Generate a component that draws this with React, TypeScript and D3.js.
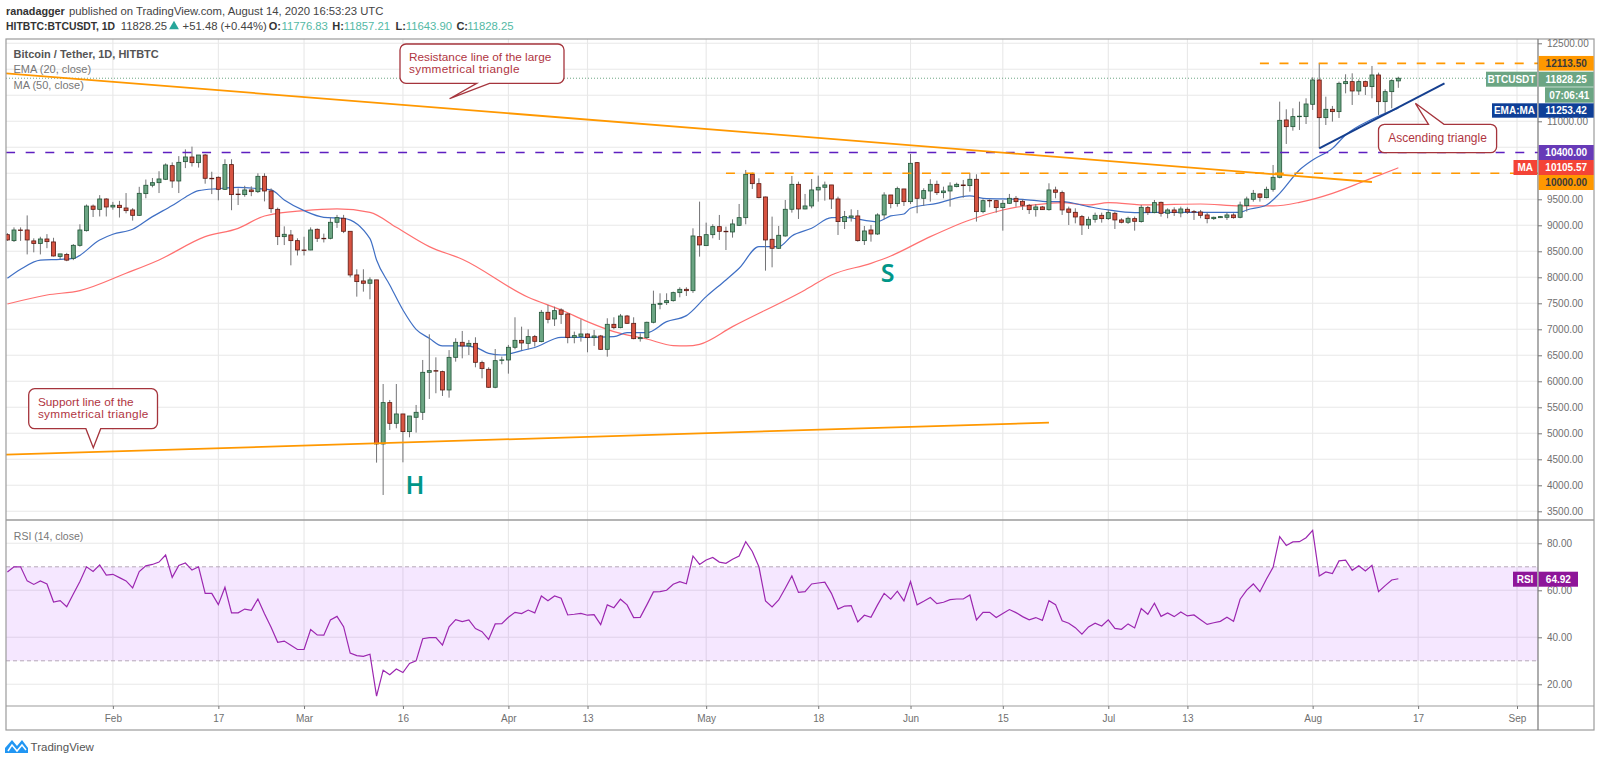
import { useEffect, useRef } from "react";
import * as d3 from "d3";

const opens = [8820,8705,8910,8910,8700,8650,8737,8680,8400,8440,8365,8615,8897,9370,9307,9506,9352,9385,9333,9295,9192,9609,9770,9820,9885,10147,9852,10224,10314,10205,10352,9904,9923,9692,10167,9600,9590,9680,9647,9942,9660,9307,8782,8814,8705,8525,8525,8923,8750,8750,9058,9135,8885,8045,7930,7885,7950,4795,5590,5192,5372,5032,5308,5404,6173,6205,6186,5833,6461,6750,6680,6730,6359,6231,5885,6410,6410,6654,6788,6730,6859,6763,7327,7199,7372,7295,6846,6865,6910,6840,6872,6615,7096,7032,7256,7115,6820,6840,7135,7481,7513,7551,7705,7769,7743,8782,8609,8820,8974,8885,8872,9000,9147,9981,9801,9545,8731,8558,8795,9308,9788,9314,9372,9680,9731,9776,9506,9071,9154,9180,8705,8910,8833,9199,9583,9417,9699,9455,10205,9519,9660,9788,9628,9660,9744,9776,9763,9885,9263,9480,9474,9340,9423,9519,9462,9385,9301,9353,9301,9680,9628,9314,9250,9167,9006,9115,9192,9128,9231,9103,9058,9128,9071,9340,9244,9442,9231,9295,9237,9308,9263,9256,9199,9128,9147,9154,9199,9154,9378,9500,9603,9532,9692,9923,11026,10897,11096,11090,11327,11795,11070,11231,11186,11724,11763,11583,11763,11667,11891,11378,11570,11776.83];
const highs = [8850,8960,8960,9190,8750,8780,8830,8760,8450,8470,8640,9020,9400,9400,9580,9520,9450,9470,9620,9330,9740,9880,9910,10040,10190,10210,10330,10460,10513,10350,10370,10030,9940,10270,10270,9710,9760,9750,10000,10000,9710,9340,8980,8910,8750,8780,8960,8940,8840,9150,9200,9200,8885,8154,8154,8000,7950,5948,5641,5948,5372,5333,5545,6410,6904,6461,6205,6600,6827,6968,6795,6846,6397,6269,6621,6474,6700,7231,7051,7000,6891,7372,7468,7436,7404,7308,6955,7192,6923,6987,6891,7212,7231,7295,7276,7231,6923,7147,7743,7692,7692,7724,7808,7808,8942,9455,9051,9019,9199,8974,9115,9410,10064,10013,9904,9551,9167,8987,9487,9949,9840,9603,9891,9955,9840,9776,9551,9276,9308,9295,8987,9006,9231,9635,9583,9743,9699,10372,10218,9712,9885,9859,9743,9827,9820,9872,10000,9981,9500,9500,9487,9487,9603,9564,9500,9410,9410,9372,9808,9743,9667,9359,9327,9199,9167,9244,9244,9295,9263,9135,9167,9167,9391,9372,9487,9455,9327,9346,9359,9346,9295,9295,9244,9167,9180,9244,9231,9455,9551,9680,9615,9743,10160,11378,11231,11250,11378,11442,11846,12115,11474,11295,11763,11904,11923,11808,11782,12064,11936,11615,11808,11857.21];
const lows = [8700,8680,8700,8440,8480,8440,8560,8400,8350,8310,8330,8590,8880,9160,9170,9170,9300,9150,9230,9090,9180,9520,9730,9620,9870,9720,9620,10100,10130,10110,9800,9600,9480,9680,9290,9390,9550,9560,9620,9460,9240,8620,8620,8230,8420,8420,8520,8680,8670,8730,8950,8850,8000,7628,7724,7577,4436,3814,5064,5096,4442,4923,5013,5256,5660,5770,5718,5686,6378,6442,6506,6269,6057,5872,5866,6327,6147,6615,6603,6615,6667,6750,7115,7064,7103,6731,6731,6763,6558,6680,6603,6474,7000,7019,7103,6808,6763,6814,7115,7385,7468,7532,7615,7641,7700,8397,8603,8750,8718,8525,8763,8987,9019,9699,9519,8128,8192,8545,8782,9244,9122,9308,9327,9455,9474,9314,8814,8929,9071,8686,8622,8686,8814,9115,9327,9359,9372,9410,9231,9372,9455,9583,9519,9359,9731,9532,9647,9071,9231,9346,9244,8897,9410,9359,9295,9218,9167,9295,9282,9519,9199,9006,9038,8814,8929,9051,9051,9103,8929,9038,9026,8897,9051,9199,9231,9167,9135,9180,9154,9218,9103,9135,9038,9103,9140,9103,9128,9135,9263,9455,9455,9519,9647,9904,10564,10820,10833,10948,11218,10480,10929,10994,11064,11538,11314,11506,11506,11442,11122,11154,11250,11643.9];
const closes = [8718,8910,8905,8718,8650,8737,8686,8410,8450,8330,8615,8910,9370,9307,9506,9352,9385,9340,9282,9192,9615,9770,9820,9891,10160,9852,10211,10314,10205,10352,9904,9900,9692,10167,9590,9596,9680,9647,9942,9660,9320,8782,8827,8705,8525,8522,8910,8750,8745,9058,9147,8885,8045,7917,7885,7950,4795,5590,5192,5372,5032,5333,5404,6173,6205,6200,5833,6461,6750,6680,6730,6365,6244,5885,6397,6412,6654,6788,6737,6859,6769,7327,7192,7359,7288,6840,6878,6910,6840,6872,6615,7096,7032,7256,7115,6820,6840,7135,7481,7500,7551,7705,7769,7743,8795,8622,8820,8974,8885,8882,9026,9147,9981,9801,9532,8718,8558,8808,9308,9788,9314,9372,9680,9731,9776,9506,9071,9167,9180,8705,8891,8833,9199,9583,9417,9705,9455,10192,9519,9667,9788,9628,9660,9756,9788,9763,9885,9263,9474,9478,9340,9423,9519,9455,9385,9301,9353,9301,9680,9635,9295,9250,9160,9006,9115,9192,9128,9244,9103,9058,9135,9077,9346,9250,9436,9231,9295,9244,9314,9256,9261,9192,9128,9154,9167,9199,9147,9391,9506,9615,9538,9692,9923,11019,10897,11090,11098,11333,11795,11070,11231,11186,11730,11763,11583,11763,11673,11891,11378,11570,11782,11828.25];

const emaDays = [0,2,5,8,10,14,16,19,22,25,27,29,32,35,38,40,42,45,48,51,55,56,58,60,62,64,66,69,71,73,75,78,80,84,88,92,94,97,100,103,106,109,111,114,117,119,122,125,127,132,134,136,137,141,146,148,154,158,160,164,167,171,178,187,188,191,193,196,198,201,203,207,211];
const emaValues = [7981,8154,8330,8346,8365,8718,8827,8923,9167,9380,9540,9667,9705,9731,9705,9680,9487,9282,9154,9135,8744,8333,7853,7372,7000,6827,6680,6680,6654,6538,6506,6590,6650,6846,6846,6859,6936,6936,7147,7263,7628,7949,8173,8590,8590,8795,8942,9147,9150,9071,9180,9218,9327,9423,9564,9519,9500,9455,9455,9359,9295,9244,9250,9250,9295,9391,9615,10064,10256,10480,10737,11038,11253];
const maDays = [0,6,11,18,23,30,35,39,45,50,55,59,64,69,79,84,88,92,97,101,103,105,110,121,125,131,134,140,146,151,158,160,164,167,173,181,187,192,196,201,206,211];
const maValues = [7487,7660,7744,8077,8333,8782,8942,9179,9282,9314,9250,8961,8590,8346,7615,7372,7147,6955,6814,6686,6680,6711,7051,7756,8045,8269,8410,8782,9103,9295,9423,9436,9391,9436,9391,9410,9372,9372,9442,9615,9859,10105.57];
const rsiValues = [67.8,70,70,64,62.5,64,62.7,55,55.6,53,58.4,63.7,70,68,70.8,66.5,66.8,65.4,64,61,68,70.4,71,72,75,65.5,70.6,71.6,68.6,70,58.7,58.7,53.9,61.3,50.4,50.4,52,51.5,56.3,50,44.3,37.9,38.4,36.6,34.8,34.8,43.3,41,40.9,47.4,48.9,44.5,33.3,32.2,31.9,32.8,15,26,24.1,26.5,25,28.9,30,39.4,39.9,39.9,36.7,44.5,47.5,46.7,47.4,43.7,42.4,39.1,45.7,45.8,48.5,50.6,50.1,51.6,50.4,57.6,55.6,57.6,56.6,49.5,49.8,50.2,49.4,49.6,45.4,53.8,52.6,56.2,53.8,48.4,48.5,53.8,59.3,59.4,60,62.6,63.7,62.8,74.6,71,72.9,74,72,71.5,73.2,74.6,80.7,76.5,70,55.5,52.9,55.9,60.9,66.1,59.1,59.4,62.7,63.1,63.5,58.7,52,53.3,53.5,46.5,49.4,48.5,53.8,58.7,56.2,59.6,55.5,63.7,53.8,55.3,56.9,54.3,54.9,56,56.3,56.3,58,47.4,50.6,50.6,48.4,50.1,51.8,50.5,48.8,47.4,48.4,47.2,55.6,53.9,47,46,44.1,41.3,44.4,46,44.8,47.4,43.8,43.4,45.7,44,52.2,49.8,54.5,48.9,50.4,48.8,50.8,49.1,49.5,47.5,45.5,46.2,46.8,48.5,46.8,56.2,60.1,62.7,59.4,64.8,69.8,82.8,79.1,80.6,80.7,82.4,85.5,66.1,67.8,67.1,72.5,72.8,68.5,70.4,68.2,70.6,59.4,62,64.4,64.92];

const priceTicks = [12500,12000,11500,11000,10500,10000,9500,9000,8500,8000,7500,7000,6500,6000,5500,5000,4500,4000,3500];
// these price labels sit under the tags on the right, the reference shows none of them
const hiddenPriceLabels = [12000,11500,10500,10000];
const rsiTicks = [80,60,40,20];
const timeTicks = ["2020-02-01","2020-02-17","2020-03-01","2020-03-16","2020-04-01","2020-04-13","2020-05-01","2020-05-18","2020-06-01","2020-06-15","2020-07-01","2020-07-13","2020-08-01","2020-08-17","2020-09-01"];
const timeLabels = ["Feb","17","Mar","16","Apr","13","May","18","Jun","15","Jul","13","Aug","17","Sep"];

const FONT = "'Liberation Sans', Arial, sans-serif";
const WIDTH = 1600;
const HEIGHT = 763;
const DAY = 86400000;

export default function App() {
  const ref = useRef<SVGSVGElement | null>(null);

  useEffect(() => {
    if (!ref.current) return;
    const svg = d3.select(ref.current);
    svg.selectAll("*").remove();

    const left = 6;
    const right = 1538;
    const outerRight = 1594;
    const top = 39;
    const paneBottom = 520;
    const rsiBottom = 706;
    const bottom = 730;

    const start = Date.UTC(2020, 0, 16);
    const x = d3
      .scaleUtc()
      .domain([new Date(start), new Date(Date.UTC(2020, 8, 1))])
      .range([7.4, 1517]);
    const xAt = (i: number) => x(new Date(start + i * DAY));
    const y = d3.scaleLinear().domain([4000, 12500]).range([485.3, 43.3]);
    const yRsi = d3.scaleLinear().domain([20, 80]).range([684.3, 543.3]);
    const tickDates = timeTicks.map((d) => new Date(d + "T00:00:00Z"));

    svg.append("rect").attr("width", WIDTH).attr("height", HEIGHT).attr("fill", "#fff");

    svg
      .append("defs")
      .append("clipPath")
      .attr("id", "plot")
      .append("rect")
      .attr("x", left)
      .attr("y", top)
      .attr("width", right - left)
      .attr("height", paneBottom - top);

    // grid
    const grid = svg.append("g").attr("stroke", "#e8e8e8").attr("stroke-width", 1.1);
    grid
      .selectAll("line.h")
      .data(priceTicks)
      .join("line")
      .attr("x1", left)
      .attr("x2", right)
      .attr("y1", (d) => y(d))
      .attr("y2", (d) => y(d));
    grid
      .selectAll("line.r")
      .data(rsiTicks)
      .join("line")
      .attr("x1", left)
      .attr("x2", right)
      .attr("y1", (d) => yRsi(d))
      .attr("y2", (d) => yRsi(d));
    grid
      .selectAll("line.v")
      .data(tickDates)
      .join("line")
      .attr("x1", (d) => x(d))
      .attr("x2", (d) => x(d))
      .attr("y1", top)
      .attr("y2", rsiBottom);

    // rsi band
    svg
      .append("rect")
      .attr("x", left)
      .attr("width", right - left)
      .attr("y", yRsi(70))
      .attr("height", yRsi(30) - yRsi(70))
      .attr("fill", "#9915ff")
      .attr("fill-opacity", 0.1);
    [70, 30].forEach((v) => {
      svg
        .append("line")
        .attr("x1", left)
        .attr("x2", right)
        .attr("y1", yRsi(v))
        .attr("y2", yRsi(v))
        .attr("stroke", "#b5a8b8")
        .attr("stroke-dasharray", "4 3");
    });

    const plot = svg.append("g").attr("clip-path", "url(#plot)");

    // last price line
    plot
      .append("line")
      .attr("x1", left)
      .attr("x2", right)
      .attr("y1", y(11828.25))
      .attr("y2", y(11828.25))
      .attr("stroke", "#6ba583")
      .attr("stroke-dasharray", "1 2");

    const maLine = d3
      .line<number>()
      .x((d, i) => xAt(maDays[i]))
      .y((d) => y(d))
      .curve(d3.curveMonotoneX);
    const emaLine = d3
      .line<number>()
      .x((d, i) => xAt(emaDays[i]))
      .y((d) => y(d))
      .curve(d3.curveMonotoneX);

    plot
      .append("path")
      .attr("d", maLine(maValues))
      .attr("fill", "none")
      .attr("stroke", "#ff7070")
      .attr("stroke-width", 1.2);
    plot
      .append("path")
      .attr("d", emaLine(emaValues))
      .attr("fill", "none")
      .attr("stroke", "#3f6fc4")
      .attr("stroke-width", 1.2);

    // candles
    const candles = plot
      .selectAll("g.candle")
      .data(closes)
      .join("g")
      .attr("class", "candle");
    candles
      .append("line")
      .attr("x1", (d, i) => xAt(i))
      .attr("x2", (d, i) => xAt(i))
      .attr("y1", (d, i) => y(highs[i]))
      .attr("y2", (d, i) => y(lows[i]))
      .attr("stroke", "#737375")
      .attr("stroke-width", 1);
    candles
      .append("rect")
      .attr("x", (d, i) => xAt(i) - 2)
      .attr("width", 4)
      .attr("y", (d, i) => y(Math.max(opens[i], d)))
      .attr("height", (d, i) => Math.max(0.5, Math.abs(y(opens[i]) - y(d))))
      .attr("fill", (d, i) => (d >= opens[i] ? "#6ba583" : "#d75442"))
      .attr("stroke", (d, i) => (d >= opens[i] ? "#225437" : "#5b1a13"))
      .attr("stroke-width", 0.8);

    // horizontal levels
    const level = (price: number, from: number, color: string) =>
      plot
        .append("line")
        .attr("x1", xAt(from))
        .attr("x2", right)
        .attr("y1", y(price))
        .attr("y2", y(price))
        .attr("stroke", color)
        .attr("stroke-width", 1.6)
        .attr("stroke-dasharray", "9 10.6");
    level(10400, -0.2, "#5e1fc0");
    level(10000, 109, "#ff9800");
    level(12113.5, 190, "#ff9800");

    // trend lines
    const trend = (a: number[], b: number[], color: string, w: number) =>
      plot
        .append("line")
        .attr("x1", xAt(a[0]))
        .attr("y1", y(a[1]))
        .attr("x2", xAt(b[0]))
        .attr("y2", y(b[1]))
        .attr("stroke", color)
        .attr("stroke-width", w);
    trend([-0.2, 11923], [207, 9833], "#ff9800", 1.8);
    trend([-0.2, 4588], [158, 5205], "#ff9800", 1.8);
    trend([199, 10481], [218, 11731], "#153f8f", 2);

    // rsi line
    svg
      .append("path")
      .attr(
        "d",
        d3
          .line<number>()
          .x((d, i) => xAt(i))
          .y((d) => yRsi(d))(rsiValues),
      )
      .attr("fill", "none")
      .attr("stroke", "#9c27b0")
      .attr("stroke-width", 1.2);

    // frame
    const frame = svg.append("g").attr("stroke", "#9b9b9b").attr("fill", "none");
    frame
      .append("rect")
      .attr("x", left)
      .attr("y", top)
      .attr("width", outerRight - left)
      .attr("height", bottom - top)
      .attr("stroke-width", 1.2);
    frame
      .append("line")
      .attr("x1", left)
      .attr("x2", outerRight)
      .attr("y1", paneBottom)
      .attr("y2", paneBottom)
      .attr("stroke-width", 1.5);
    frame
      .append("line")
      .attr("x1", left)
      .attr("x2", outerRight)
      .attr("y1", rsiBottom)
      .attr("y2", rsiBottom)
      .attr("stroke-width", 1.2);
    frame
      .append("line")
      .attr("x1", right)
      .attr("x2", right)
      .attr("y1", top)
      .attr("y2", bottom)
      .attr("stroke", "#777")
      .attr("stroke-width", 1.2);

    // axes
    const styleAxis = (g: any) => {
      g.select(".domain").remove();
      g.selectAll("line").attr("stroke", "#777");
      g.selectAll("text").attr("fill", "#6f6f6f").attr("font-size", 10).attr("font-family", FONT);
    };
    svg
      .append("g")
      .attr("transform", `translate(${right},0)`)
      .call(
        d3
          .axisRight(y)
          .tickValues(priceTicks.filter((d) => !hiddenPriceLabels.includes(d)))
          .tickFormat(d3.format(".2f"))
          .tickSize(4)
          .tickPadding(5),
      )
      .call(styleAxis);
    svg
      .append("g")
      .attr("transform", `translate(${right},0)`)
      .call(d3.axisRight(yRsi).tickValues(rsiTicks).tickFormat(d3.format(".2f")).tickSize(4).tickPadding(5))
      .call(styleAxis);
    svg
      .append("g")
      .attr("transform", `translate(0,${rsiBottom})`)
      .call(
        d3
          .axisBottom(x)
          .tickValues(tickDates)
          .tickFormat((d, i) => timeLabels[i])
          .tickSize(3)
          .tickPadding(6),
      )
      .call(styleAxis);

    // price tags on the right axis
    const tag = (x0: number, x1: number, yc: number, h: number, fill: string, label: string, color = "#fff") => {
      svg
        .append("rect")
        .attr("x", x0)
        .attr("y", yc - h / 2)
        .attr("width", x1 - x0)
        .attr("height", h)
        .attr("fill", fill);
      svg
        .append("text")
        .attr("x", (x0 + x1) / 2)
        .attr("y", yc + 3.6)
        .attr("text-anchor", "middle")
        .attr("font-size", 10)
        .attr("font-weight", "bold")
        .attr("font-family", FONT)
        .attr("fill", color)
        .text(label);
    };
    tag(1538.7, 1593.7, 63.3, 14.7, "#ff9800", "12113.50", "#3a3a3a");
    tag(1486, 1537, 79.2, 15, "#6ba583", "BTCUSDT");
    tag(1538.7, 1593.7, 79.2, 15, "#6ba583", "11828.25");
    tag(1545, 1593.7, 95, 15.4, "#6ba583", "07:06:41");
    tag(1492, 1537, 110.5, 14.4, "#0f3f97", "EMA:MA");
    tag(1538.7, 1593.7, 110.5, 14.4, "#0f3f97", "11253.42");
    tag(1538.7, 1593.7, 152.5, 15, "#673ab7", "10400.00");
    tag(1513.5, 1537, 167.5, 15, "#f44336", "MA");
    tag(1538.7, 1593.7, 167.5, 15, "#f44336", "10105.57");
    tag(1538.7, 1593.7, 182.5, 15, "#ff9800", "10000.00", "#3a3a3a");
    tag(1513, 1537, 579.2, 15, "#8e1599", "RSI");
    tag(1538.7, 1578, 579.2, 15, "#8e1599", "64.92");

    // callouts
    const callout = (
      x0: number,
      y0: number,
      x1: number,
      y1: number,
      tailA: number,
      tailB: number,
      tipX: number,
      tipY: number,
      below: boolean,
    ) => {
      const r = 6;
      const p = d3.path();
      p.moveTo(x0 + r, y0);
      if (!below) {
        p.lineTo(tailA, y0);
        p.lineTo(tipX, tipY);
        p.lineTo(tailB, y0);
      }
      p.arcTo(x1, y0, x1, y0 + r, r);
      p.arcTo(x1, y1, x1 - r, y1, r);
      if (below) {
        p.lineTo(tailB, y1);
        p.lineTo(tipX, tipY);
        p.lineTo(tailA, y1);
      }
      p.arcTo(x0, y1, x0, y1 - r, r);
      p.arcTo(x0, y0, x0 + r, y0, r);
      p.closePath();
      svg
        .append("path")
        .attr("d", p.toString())
        .attr("fill", "#fff")
        .attr("stroke", "#a5343c")
        .attr("stroke-width", 1.3);
    };
    const note = (tx: number, ty: number, label: string, anchor = "start", size = 11.8) =>
      svg
        .append("text")
        .attr("x", tx)
        .attr("y", ty)
        .attr("font-size", size)
        .attr("font-family", FONT)
        .attr("text-anchor", anchor)
        .attr("fill", "#b0353f")
        .attr("textLength", label === "symmetrical triangle" ? 110.5 : null)
        .text(label);

    callout(400, 44, 564, 83.3, 476.7, 489.5, 449.6, 98.7, true);
    note(409, 61, "Resistance line of the large");
    note(409, 72.5, "symmetrical triangle");
    callout(28.7, 388.7, 157.5, 428.7, 85.9, 100.7, 93.3, 447.7, true);
    note(37.9, 405.5, "Support line of the");
    note(37.9, 417.5, "symmetrical triangle");
    callout(1378.5, 124.3, 1496.6, 152.7, 1428.5, 1444, 1415.4, 103.3, false);
    note(1437.5, 141.5, "Ascending triangle", "middle", 12);

    // H and S letters
    const letter = (lx: number, ly: number, label: string) =>
      svg
        .append("text")
        .attr("x", lx)
        .attr("y", ly)
        .attr("text-anchor", "middle")
        .attr("font-size", 25)
        .attr("font-weight", 600)
        .attr("font-family", "'Noto Sans', sans-serif")
        .attr("fill", "#009688")
        .text(label);
    letter(415, 494, "H");
    letter(887.7, 282, "S");

    // header
    const text = (tx: number, ty: number, label: string, size: number, fill: string, weight = "normal") =>
      svg
        .append("text")
        .attr("x", tx)
        .attr("y", ty)
        .attr("font-size", size)
        .attr("font-weight", weight)
        .attr("font-family", FONT)
        .attr("fill", fill)
        .text(label);
    text(6, 15, "ranadagger", 10.8, "#333", "bold");
    text(69, 15, "published on TradingView.com, August 14, 2020 16:53:23 UTC", 11.3, "#444");
    text(6, 30, "HITBTC:BTCUSDT, 1D", 10.4, "#333", "bold");
    text(120.7, 30, "11828.25", 11.3, "#444");
    svg
      .append("path")
      .attr("d", d3.symbol(d3.symbolTriangle, 42)() as string)
      .attr("transform", "translate(174,26.5)")
      .attr("fill", "#26a69a");
    text(182.6, 30, "+51.48 (+0.44%)", 11.3, "#444");
    [
      [268.8, 281.6, "O:", "11776.83"],
      [332.3, 343.8, "H:", "11857.21"],
      [395.5, 405.7, "L:", "11643.90"],
      [456.4, 467.2, "C:", "11828.25"],
    ].forEach(([a, b, k, v]) => {
      text(a as number, 30, k as string, 11, "#333", "bold");
      text(b as number, 30, v as string, 11.3, "#53b9a5");
    });

    // pane legends
    text(13.5, 57.5, "Bitcoin / Tether, 1D, HITBTC", 11, "#555", "bold");
    text(13.5, 73, "EMA (20, close)", 11, "#777");
    text(13.5, 88.5, "MA (50, close)", 11, "#777");
    text(13.8, 540, "RSI (14, close)", 10.5, "#777");

    // logo
    svg
      .append("path")
      .attr("d", "M5 753 V748 L12 740 L17 746 L22 740 L28 748 V753 Z")
      .attr("fill", "#2196f3");
    svg
      .append("path")
      .attr("d", "M8 751 L12 745 L17 751 L22 745 L26 750")
      .attr("fill", "none")
      .attr("stroke", "#fff")
      .attr("stroke-width", 1.5);
    text(30.6, 751, "TradingView", 11.5, "#555");
  }, []);

  return (
    <svg
      ref={ref}
      width={WIDTH}
      height={HEIGHT}
      style={{ position: "absolute", left: 0, top: 0, display: "block" }}
    />
  );
}
